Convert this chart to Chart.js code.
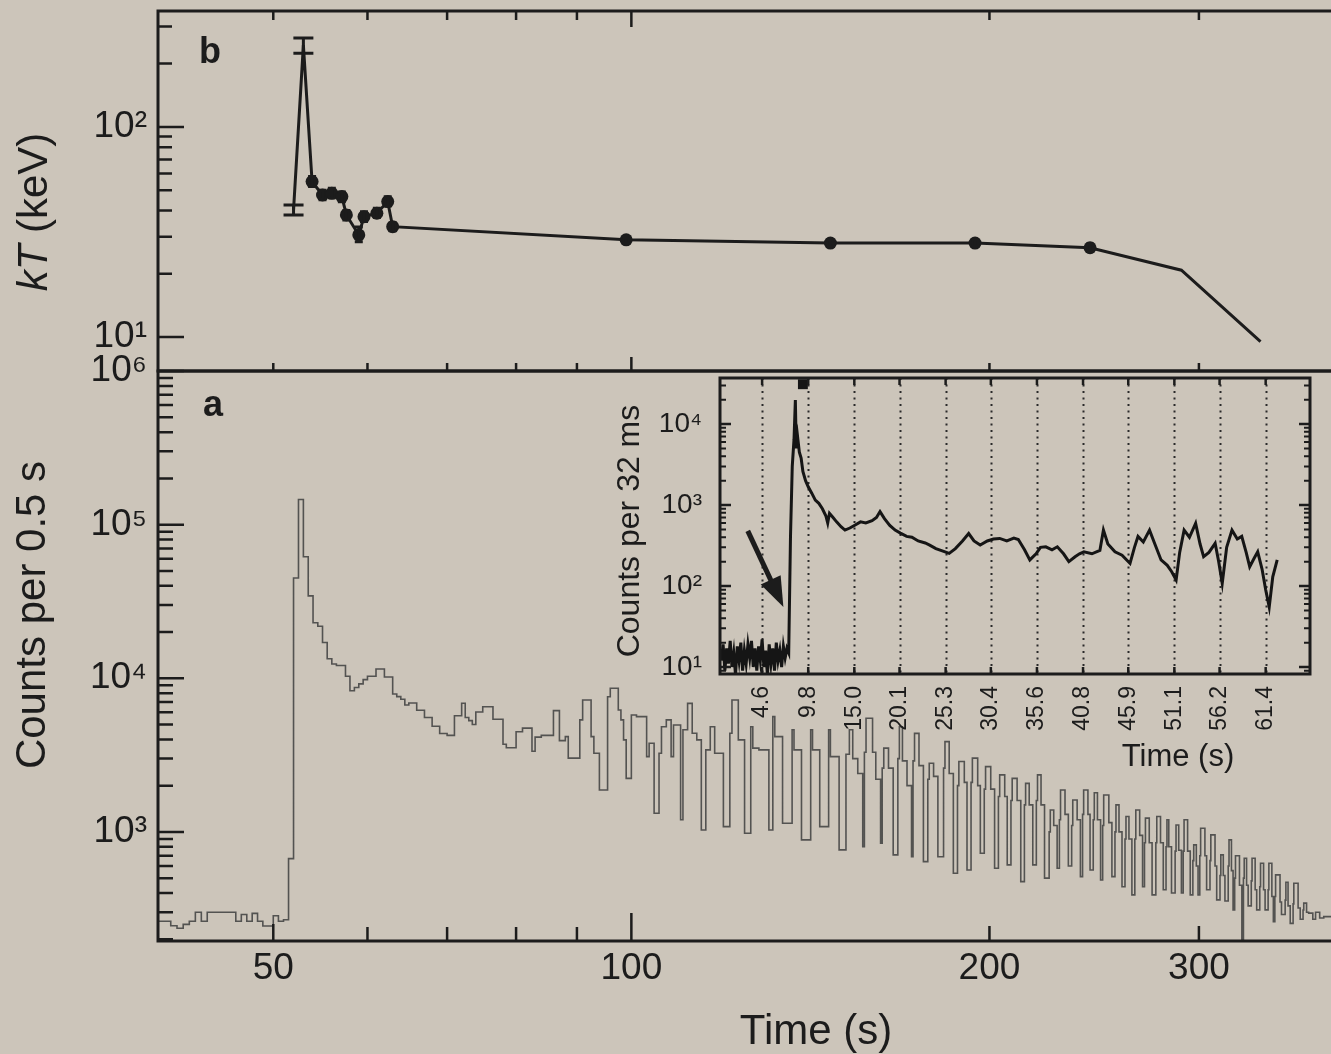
<!DOCTYPE html>
<html>
<head>
<meta charset="utf-8">
<script src="https://cdn.jsdelivr.net/npm/chart.js@4.4.1/dist/chart.umd.min.js"></script>
<style>
  html, body { margin: 0; padding: 0; background: #ccc5ba; overflow: hidden; }
  #fig { position: relative; width: 1331px; height: 1054px; }
  canvas { position: absolute; }
</style>
</head>
<body>
<div id="fig">
  <canvas id="kt" width="1331" height="380" style="left:0;top:0"></canvas>
  <canvas id="counts" width="1331" height="714" style="left:0;top:340px"></canvas>
  <canvas id="inset" width="731" height="430" style="left:600px;top:360px"></canvas>
</div>
<script>
const FONT = '"Liberation Sans", Arial, Helvetica, sans-serif';
const INK = '#1c1c1c';
const PAPER = '#ccc5ba';

// shared time axis (s)
const timeRange = [40, 387.4];
const timeTicks = [50, 100, 200, 300];
const timeMinor = [60, 70, 80, 90];

// panel b: kT (keV)
const ktRange = [6.89, 356];
const ktTicks = [10, 100];
const ktMinor = [20, 30, 40, 50, 60, 70, 80, 90, 200, 300];
const ktTime  = [52.0, 53.0, 53.9, 55.0, 56.0, 57.1, 57.6, 59.0, 59.6, 61.1, 62.4, 63.0, 99.0, 147, 194.5, 243, 290, 338];
const ktValue = [40.3, 245, 54.9, 47.4, 48.3, 46.6, 38.1, 30.6, 37.4, 38.8, 44.1, 33.5, 29.0, 28.0, 28.0, 26.6, 20.8, 9.5];
const ktLow   = [38.1, 224, 52, 45, 46, 44, 36, 28.4, 35.5, 37, 42, 32, 28, 27, 27, 25.6, null, null];
const ktHigh  = [42.5, 265, 58, 50, 51, 49, 40, 33.4, 39.5, 41, 46.5, 35, 30, 29, 29, 27.7, null, null];

// panel a: counts per 0.5 s, [bin start (s), counts]
const countsRange = [195, 1e6];
const countsTicks = [1e3, 1e4, 1e5, 1e6];
const burstCurve = [
  [40.0,270],[41.0,262],[41.5,245],[42.0,236],[42.5,250],[43.0,262],[43.5,300],[44.0,262],[46.5,300],[47.0,262],
  [47.5,290],[48.0,262],[48.5,295],[49.0,262],[50.0,244],[50.5,285],[51.0,262],[51.5,268],
  [52.0,670],[52.5,44900],[53.0,145600],[53.5,61800],[54.0,34400],[54.5,23000],[55.0,21800],[55.5,17100],
  [56.0,13400],[56.5,12400],[57.5,12100],[58.0,10300],[58.5,8300],[59.0,8700],[59.5,9200],[60.0,9800],
  [61.0,10300],[62.0,11500],[63.0,10200],[63.5,7900],[64.0,7600],[64.5,7300],[65.0,6700],[66.0,6900],
  [67.0,6200],[68.0,5560],[69.0,4870],[70.0,4370],[71.0,4250],[72.0,5700],[72.5,6880],[73.0,5560],
  [73.5,5300],[74.0,5000],[75.0,6030],[76.5,6520],[78.0,5410],[78.5,3720],[80.0,3530],[81.0,4490],
  [82.5,4740],[83.0,3350],[84.0,4140],[86.0,4250],[87.0,6160],[88.0,3930],[88.5,4170],
  [90.5,3020],[91.0,5360],[92.5,7220],[93.0,4170],[94.0,3250],[95.5,1875],[96.0,7590],[97.5,8610],
  [98.0,6220],[98.5,5360],[99.0,3970],[100.0,2230],[101.0,5770],[103.0,5630],[103.5,3090],[104.5,3780],
  [105.5,1324],[106.0,3250],[107.0,4840],[108.0,5360],[108.5,3090],[110.0,4970],[110.5,1200],[111.5,4620],
  [112.5,6870],[113.5,4390],[114.5,3970],[115.5,1030],[116.5,3420],[117.5,4840],[119.5,3250],[121.0,1083],
  [121.5,4390],[123.0,7220],[124.5,3970],[126.0,980],[126.5,4840],[128.0,3510],[130.5,3420],[131.5,1030],
  [132.0,5630],[134.0,4170],[136.5,1140],[137.0,4620],[139.0,3420],[141.5,887],[142.0,4620],[144.0,3420],
  [146.5,1083],[147.0,4620],[149.5,3090],[151.5,764],
  [152.5,3200],[153.5,4620],[155.0,3000],[156.5,2400],[157.0,802],[157.5,3300],[159.5,5490],[160.5,3300],
  [162.0,2200],[162.5,845],[163.0,2600],[164.5,3510],[166.0,2600],[167.5,709],[168.0,3000],[169.0,4840],
  [170.5,2900],[172.0,2000],[172.5,690],[173.0,2900],[174.5,4380],[176.0,2700],[177.5,641],[178.0,2200],
  [179.5,2800],[181.0,2300],[183.0,690],[183.5,2600],[185.0,3870],[186.5,2400],[188.0,538],[188.5,2000],
  [190.5,2870],[191.5,2100],[193.0,565],[193.5,2100],[195.5,3020],[196.5,2000],[198.0,727],[198.5,1900],
  [200.5,2660],[202.0,1900],[203.5,580],[204.0,1700],[206.0,2350],[207.0,1700],[208.5,610],[209.0,1600],
  [211.0,2230],[212.5,1600],[214.0,475],[214.5,1500],[216.0,2070],[217.5,1500],[219.0,610],[219.5,1600],
  [221.0,2350],[222.5,1500],[224.5,500],[225.0,1000],[226.5,1390],[228.0,1100],[229.0,580],[229.5,1200],
  [231.5,1875],[233.0,1300],[234.5,600],[235.0,1100],[237.0,1615],[238.5,1200],[239.5,512],[240.0,1300],
  [242.0,1875],[243.0,1300],[244.5,565],[245.0,1200],[246.5,1800],[248.0,1200],[249.0,487],[249.5,1100],
  [252.0,1740],[253.5,1150],[255.0,512],[255.5,1000],[257.0,1500],[258.5,1000],[260.0,440],[260.5,900],
  [262.0,1260],[263.5,900],[265.0,389],[265.5,900],[267.5,1390],[269.0,950],[270.0,440],[270.5,850],
  [272.5,1230],[274.0,850],[276.0,389],[276.5,850],[278.5,1260],[280.0,850],[281.5,420],[282.0,800],
  [283.0,1200],[284.5,800],[286.5,400],[287.0,750],[288.5,1110],[290.0,760],[291.0,400],[291.5,750],
  [293.5,1200],[295.0,750],[296.5,389],[297.0,650],[298.5,823],[299.5,600],[300.5,389],[301.0,700],
  [303.5,1056],[304.5,700],[306.5,420],[307.0,650],[309.5,956],[310.5,600],[312.5,361],[313.0,520],
  [314.5,709],[315.5,520],[317.5,355],[318.0,600],[319.5,887],[320.5,560],[321.5,311],[322.0,500],
  [324.5,700],[326.0,450],[327.0,110],[327.5,500],[329.0,674],[330.0,450],[332.0,330],[332.5,480],
  [334.5,674],[335.5,420],[337.5,311],[338.0,440],[340.0,626],[341.0,420],[343.0,311],[343.5,420],
  [345.5,626],[346.5,380],[347.5,260],[348.0,380],[351.0,525],[352.0,350],[354.5,290],[355.0,360],
  [356.5,470],[358.0,330],[360.0,254],[360.5,340],[363.5,463],[365.0,320],[367.0,270],[367.5,310],
  [369.5,344],[371.0,300],[374.0,296],[376.0,270],[379.0,300],[382.0,275],[386.5,281],[388.0,281]
];

// inset: counts per 32 ms
const insetTimeRange = [-0.15, 66.4];
const insetTicks = [4.6, 9.8, 15.0, 20.1, 25.3, 30.4, 35.6, 40.8, 45.9, 51.1, 56.2, 61.4];
const insetTickLabels = ['4.6', '9.8', '15.0', '20.1', '25.3', '30.4', '35.6', '40.8', '45.9', '51.1', '56.2', '61.4'];
const insetCountsRange = [8.2, 37000];
const insetCountsTicks = [10, 100, 1000, 10000];
const insetCurve = [
  [0.0,12],[0.2,19],[0.4,9],[0.6,17],[0.8,11],[1.0,21],[1.2,10],[1.4,15],[1.6,8],[1.8,18],
  [2.0,12],[2.2,20],[2.4,9],[2.6,16],[2.8,11],[3.0,19],[3.2,13],[3.4,21],[3.6,10],[3.8,17],
  [4.0,9],[4.2,18],[4.4,12],[4.6,22],[4.8,10],[5.0,16],[5.2,8],[5.4,19],[5.6,11],[5.8,17],
  [6.0,9],[6.2,20],[6.4,12],[6.6,16],[6.8,10],[7.0,18],[7.2,13],[7.4,17],[7.6,15],
  [7.8,400],[8.0,3000],[8.2,6500],[8.35,19800],[8.45,5000],[8.6,7000],[8.8,4500],[9.0,3800],[9.2,2600],
  [9.5,2000],[9.8,1680],[10.2,1400],[10.6,1150],[11.0,1050],[11.4,900],[11.8,730],[12.0,600],[12.2,790],
  [12.6,700],[13.0,620],[13.5,540],[13.95,490],[14.5,520],[15.0,560],[15.7,620],[16.3,600],[17.0,640],
  [17.5,700],[17.9,830],[18.4,680],[19.0,560],[19.6,490],[20.2,450],[20.9,410],[21.5,400],[22.2,360],
  [23.0,340],[23.5,320],[24.2,290],[25.0,270],[25.7,253],[26.4,290],[27.2,360],[27.9,445],[28.5,360],
  [29.2,320],[30.0,360],[30.7,380],[31.4,387],[32.2,360],[33.0,390],[33.5,375],[34.2,280],[34.8,210],
  [35.5,250],[36.0,300],[36.6,305],[37.3,280],[37.9,305],[38.6,250],[39.2,200],[39.9,230],[40.4,250],
  [40.9,264],[41.8,250],[42.7,275],[43.1,490],[43.6,330],[44.4,264],[45.2,240],[46.1,190],[46.6,300],
  [47.0,410],[47.6,350],[48.3,490],[48.9,330],[49.6,210],[50.3,180],[50.8,150],[51.3,119],[51.7,260],
  [52.2,490],[52.8,400],[53.5,594],[54.0,330],[54.4,230],[55.0,260],[55.7,337],[56.1,200],[56.5,108],
  [57.0,300],[57.6,490],[58.2,380],[58.7,410],[59.2,260],[59.6,173],[60.1,220],[60.5,264],[61.0,160],
  [61.4,90],[61.8,55],[62.2,130],[62.7,210]
];
const insetArrow = [[3.1, 450], [7.0, 55]];
const insetSaturation = [[9.2, 31000]];

const SUP = {'0':'⁰','1':'¹','2':'²','3':'³','4':'⁴','5':'⁵','6':'⁶','7':'⁷','8':'⁸','9':'⁹'};
const pow10 = v => '10' + String(Math.round(Math.log10(v))).split('').map(d => SUP[d]).join('');
const toPoints = pairs => pairs.map(([x, y]) => ({x, y}));

function decadeMinors(lo, hi) {
  const out = [];
  for (let e = Math.floor(Math.log10(lo)); e <= Math.ceil(Math.log10(hi)); e++) {
    for (let m = 2; m <= 9; m++) {
      const v = m * Math.pow(10, e);
      if (v > lo && v < hi) out.push(v);
    }
  }
  return out;
}

// keep chart area where the layout puts it
function noPad(s) {
  s.paddingTop = 0; s.paddingBottom = 0; s.paddingLeft = 0; s.paddingRight = 0;
}

// ticks, frame, dotted guides, arrow and free text drawn from the scales
const figurePlugin = {
  id: 'figure',
  beforeDatasetsDraw(chart, args, o) {
    const {ctx, chartArea: a} = chart;
    ctx.save();
    if (o.fill) {
      ctx.fillStyle = o.fill;
      ctx.fillRect(a.left, a.top, a.right - a.left, a.bottom - a.top);
    }
    if (o.dotted) {
      const s = chart.scales[o.dotted.axis];
      ctx.strokeStyle = '#2a2a2a';
      ctx.lineWidth = 2;
      ctx.setLineDash([2, 4.5]);
      ctx.beginPath();
      o.dotted.values.forEach(v => {
        const p = Math.round(s.getPixelForValue(v)) + 0.5;
        ctx.moveTo(p, a.top); ctx.lineTo(p, a.bottom);
      });
      ctx.stroke();
    }
    ctx.restore();
  },
  afterDraw(chart, args, o) {
    const {ctx, chartArea: a} = chart;
    ctx.save();
    ctx.strokeStyle = INK;
    ctx.fillStyle = INK;
    (o.marks || []).forEach(m => {
      const s = chart.scales[m.axis];
      ctx.lineWidth = m.width || 2.5;
      ctx.beginPath();
      m.values.forEach(v => {
        const p = s.getPixelForValue(v);
        if (m.side === 'top') { ctx.moveTo(p, a.top); ctx.lineTo(p, a.top + m.len); }
        else if (m.side === 'bottom') { ctx.moveTo(p, a.bottom); ctx.lineTo(p, a.bottom - m.len); }
        else if (m.side === 'left') { ctx.moveTo(a.left, p); ctx.lineTo(a.left + m.len, p); }
        else { ctx.moveTo(a.right, p); ctx.lineTo(a.right - m.len, p); }
      });
      ctx.stroke();
    });
    if (o.frame) {
      ctx.lineWidth = o.frameWidth || 3;
      ctx.lineCap = 'square';
      ctx.beginPath();
      o.frame.forEach(side => {
        if (side === 'top') { ctx.moveTo(a.left, a.top); ctx.lineTo(a.right, a.top); }
        if (side === 'bottom') { ctx.moveTo(a.left, a.bottom); ctx.lineTo(a.right, a.bottom); }
        if (side === 'left') { ctx.moveTo(a.left, a.top); ctx.lineTo(a.left, a.bottom); }
        if (side === 'right') { ctx.moveTo(a.right, a.top); ctx.lineTo(a.right, a.bottom); }
      });
      ctx.stroke();
    }
    if (o.arrow) {
      const x = chart.scales.x, y = chart.scales.y;
      const x0 = x.getPixelForValue(o.arrow[0][0]), y0 = y.getPixelForValue(o.arrow[0][1]);
      const x1 = x.getPixelForValue(o.arrow[1][0]), y1 = y.getPixelForValue(o.arrow[1][1]);
      const ang = Math.atan2(y1 - y0, x1 - x0), head = 30, half = 11;
      const bx = x1 - head * Math.cos(ang), by = y1 - head * Math.sin(ang);
      ctx.lineWidth = 5;
      ctx.beginPath(); ctx.moveTo(x0, y0); ctx.lineTo(bx, by); ctx.stroke();
      ctx.beginPath();
      ctx.moveTo(x1, y1);
      ctx.lineTo(bx + half * Math.sin(ang), by - half * Math.cos(ang));
      ctx.lineTo(bx - half * Math.sin(ang), by + half * Math.cos(ang));
      ctx.closePath(); ctx.fill();
    }
    (o.texts || []).forEach(t => {
      ctx.save();
      ctx.translate(t.x, t.y);
      if (t.rot) ctx.rotate(t.rot);
      ctx.textBaseline = 'middle';
      ctx.textAlign = 'left';
      const parts = t.parts || [{text: t.text, font: t.font}];
      let total = 0;
      parts.forEach(p => { ctx.font = p.font; p.w = ctx.measureText(p.text).width; total += p.w; });
      let cx = -total / 2;
      parts.forEach(p => { ctx.font = p.font; ctx.fillText(p.text, cx, 0); cx += p.w; });
      ctx.restore();
    });
    ctx.restore();
  }
};

const errorBarPlugin = {
  id: 'errorBars',
  afterDatasetsDraw(chart, args, o) {
    if (!o.low) return;
    const {ctx} = chart, x = chart.scales.x, y = chart.scales.y;
    ctx.save();
    ctx.strokeStyle = INK;
    ctx.lineWidth = 3;
    o.time.forEach((t, i) => {
      if (o.low[i] == null) return;
      const px = x.getPixelForValue(t);
      const lo = y.getPixelForValue(o.low[i]), hi = y.getPixelForValue(o.high[i]);
      const cap = i < 2 ? 10 : 4;
      ctx.beginPath();
      ctx.moveTo(px, lo); ctx.lineTo(px, hi);
      ctx.moveTo(px - cap, lo); ctx.lineTo(px + cap, lo);
      ctx.moveTo(px - cap, hi); ctx.lineTo(px + cap, hi);
      ctx.stroke();
    });
    ctx.restore();
  }
};

const base = {
  responsive: false,
  animation: false,
  events: [],
};
const quiet = { legend: { display: false }, tooltip: { enabled: false } };
const tickFont = size => ({ family: FONT, size: size, lineHeight: 1.2 });

// ---------- panel b ----------
new Chart(document.getElementById('kt'), {
  type: 'line',
  data: {
    datasets: [{
      data: ktTime.map((t, i) => ({x: t, y: ktValue[i]})),
      borderColor: INK,
      borderWidth: 3,
      tension: 0,
      pointRadius: c => (c.dataIndex < 2 || ktLow[c.dataIndex] == null) ? 0 : 6.5,
      pointBackgroundColor: INK,
      pointBorderWidth: 0
    }]
  },
  options: {
    ...base,
    layout: { padding: { top: 11, bottom: 9, left: 0, right: 0 } },
    scales: {
      x: { type: 'logarithmic', min: timeRange[0], max: timeRange[1], bounds: 'data', display: false },
      y: {
        type: 'logarithmic', min: ktRange[0], max: ktRange[1], bounds: 'data',
        grid: { display: false, drawTicks: false }, border: { display: false },
        ticks: { color: INK, font: tickFont(37), padding: 11, callback: v => pow10(v) },
        afterBuildTicks: s => { s.ticks = ktTicks.map(v => ({value: v})); },
        afterFit: s => { s.width = 158; noPad(s); }
      }
    },
    plugins: {
      ...quiet,
      errorBars: { time: ktTime, low: ktLow, high: ktHigh },
      figure: {
        frame: ['top', 'bottom', 'left'],
        marks: [
          { axis: 'y', side: 'left', values: ktTicks, len: 26 },
          { axis: 'y', side: 'left', values: ktMinor, len: 14 },
          { axis: 'x', side: 'top', values: [50, ...timeMinor, 200, 300], len: 9 },
          { axis: 'x', side: 'top', values: [100], len: 16 },
          { axis: 'x', side: 'bottom', values: [50, ...timeMinor, 200, 300], len: 8 },
          { axis: 'x', side: 'bottom', values: [100], len: 14 }
        ],
        texts: [
          { x: 35, y: 212, rot: -Math.PI / 2, parts: [
            { text: 'kT', font: 'italic 42px ' + FONT },
            { text: ' (keV)', font: '42px ' + FONT }
          ] },
          { x: 210, y: 53, text: 'b', font: 'bold 36px ' + FONT }
        ]
      }
    }
  },
  plugins: [figurePlugin, errorBarPlugin]
});

// ---------- panel a ----------
new Chart(document.getElementById('counts'), {
  type: 'line',
  data: {
    datasets: [{
      data: toPoints(burstCurve),
      stepped: 'after',
      borderColor: 'rgba(70,70,70,0.9)',
      borderWidth: 1.6,
      pointRadius: 0
    }]
  },
  options: {
    ...base,
    layout: { padding: { top: 31, bottom: 0, left: 0, right: 0 } },
    scales: {
      x: {
        type: 'logarithmic', min: timeRange[0], max: timeRange[1], bounds: 'data',
        grid: { display: false, drawTicks: false }, border: { display: false },
        ticks: { color: INK, font: tickFont(37), padding: 6, autoSkip: false, maxRotation: 0, callback: v => String(v) },
        afterBuildTicks: s => { s.ticks = timeTicks.map(v => ({value: v})); },
        afterFit: s => { s.height = 113; noPad(s); }
      },
      y: {
        type: 'logarithmic', min: countsRange[0], max: countsRange[1], bounds: 'data',
        grid: { display: false, drawTicks: false }, border: { display: false },
        ticks: { color: INK, font: tickFont(37), padding: 11, callback: v => pow10(v) },
        afterBuildTicks: s => { s.ticks = countsTicks.map(v => ({value: v})); },
        afterFit: s => { s.width = 158; noPad(s); }
      }
    },
    plugins: {
      ...quiet,
      figure: {
        frame: ['top', 'bottom', 'left'],
        marks: [
          { axis: 'y', side: 'left', values: countsTicks, len: 26 },
          { axis: 'y', side: 'left', values: decadeMinors(countsRange[0], countsRange[1]), len: 15 },
          { axis: 'x', side: 'bottom', values: [50], len: 17 },
          { axis: 'x', side: 'bottom', values: timeMinor, len: 14 },
          { axis: 'x', side: 'bottom', values: [100], len: 28 },
          { axis: 'x', side: 'bottom', values: [200, 300], len: 15 }
        ],
        texts: [
          { x: 33, y: 275, rot: -Math.PI / 2, text: 'Counts per 0.5 s', font: '42px ' + FONT },
          { x: 816, y: 692, text: 'Time (s)', font: '42px ' + FONT },
          { x: 213, y: 66, text: 'a', font: 'bold 36px ' + FONT }
        ]
      }
    }
  },
  plugins: [figurePlugin]
});

// ---------- inset ----------
new Chart(document.getElementById('inset'), {
  type: 'line',
  data: {
    datasets: [
      {
        data: toPoints(insetCurve),
        borderColor: '#151515',
        borderWidth: 3,
        pointRadius: 0,
        tension: 0
      },
      {
        data: toPoints(insetSaturation),
        showLine: false,
        pointStyle: 'rect',
        pointRadius: 7,
        pointBackgroundColor: '#151515',
        pointBorderWidth: 0
      }
    ]
  },
  options: {
    ...base,
    layout: { padding: { top: 18, bottom: 0, left: 0, right: 21 } },
    scales: {
      x: {
        type: 'linear', min: insetTimeRange[0], max: insetTimeRange[1], bounds: 'data',
        grid: { display: false, drawTicks: false }, border: { display: false },
        ticks: {
          color: INK, font: tickFont(23), padding: 12, autoSkip: false,
          minRotation: 90, maxRotation: 90,
          callback: (v, i) => insetTickLabels[i]
        },
        afterBuildTicks: s => { s.ticks = insetTicks.map(v => ({value: v})); },
        afterFit: s => { s.height = 116; noPad(s); }
      },
      y: {
        type: 'logarithmic', min: insetCountsRange[0], max: insetCountsRange[1], bounds: 'data',
        grid: { display: false, drawTicks: false }, border: { display: false },
        ticks: { color: INK, font: tickFont(28), padding: 18, callback: v => pow10(v) },
        afterBuildTicks: s => { s.ticks = insetCountsTicks.map(v => ({value: v})); },
        afterFit: s => { s.width = 120; noPad(s); }
      }
    },
    plugins: {
      ...quiet,
      figure: {
        fill: PAPER,
        dotted: { axis: 'x', values: insetTicks },
        frame: ['top', 'bottom', 'left', 'right'],
        marks: [
          { axis: 'y', side: 'left', values: insetCountsTicks, len: 11 },
          { axis: 'y', side: 'left', values: decadeMinors(insetCountsRange[0], insetCountsRange[1]), len: 6, width: 2 },
          { axis: 'y', side: 'right', values: insetCountsTicks, len: 11 },
          { axis: 'y', side: 'right', values: decadeMinors(insetCountsRange[0], insetCountsRange[1]), len: 6, width: 2 },
          { axis: 'x', side: 'top', values: insetTicks, len: 7 },
          { axis: 'x', side: 'bottom', values: insetTicks, len: 7 }
        ],
        arrow: insetArrow,
        texts: [
          { x: 30, y: 171, rot: -Math.PI / 2, text: 'Counts per 32 ms', font: '32px ' + FONT },
          { x: 578, y: 397, text: 'Time (s)', font: '31px ' + FONT }
        ]
      }
    }
  },
  plugins: [figurePlugin]
});
</script>
</body>
</html>
